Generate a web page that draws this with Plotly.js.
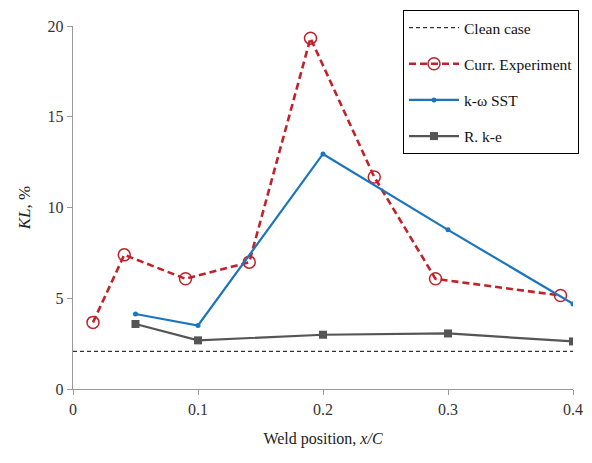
<!DOCTYPE html>
<html><head><meta charset="utf-8">
<script src="https://cdn.plot.ly/plotly-3.0.1.min.js"></script>
<style>body{margin:0;padding:0;background:#fff}#chart{width:592px;height:463px}</style>
</head><body><div id="chart"></div>
<script>
const cleanX = [0, 0.4];
const cleanY = [2.07, 2.07];
const expX = [0.016, 0.041, 0.09, 0.141, 0.19, 0.241, 0.29, 0.39];
const expY = [3.67, 7.39, 6.07, 6.99, 19.33, 11.68, 6.07, 5.15];
const sstX = [0.05, 0.1, 0.2, 0.3, 0.4];
const sstY = [4.13, 3.5, 12.95, 8.77, 4.69];
const rkeX = [0.05, 0.1, 0.2, 0.3, 0.4];
const rkeY = [3.58, 2.68, 2.99, 3.06, 2.62];
const xTicks = [0, 0.1, 0.2, 0.3, 0.4];
const xTickText = ['0', '0.1', '0.2', '0.3', '0.4'];
const yTicks = [0, 5, 10, 15, 20];

const FF = 'Liberation Serif';
const traces = [
  {x: cleanX, y: cleanY, name: 'Clean case', mode: 'lines', legendgroup: 'a',
   line: {color: '#333333', width: 1.3, dash: '4px,3px'}},
  {x: expX, y: expY, name: 'Curr. Experiment', mode: 'lines+markers', legendgroup: 'b',
   line: {color: '#c0222a', width: 2.6, dash: '7px,4px'},
   marker: {symbol: 'circle-open', size: 12, color: '#c0222a', line: {width: 1.5, color: '#c0222a'}}},
  {x: sstX, y: sstY, name: 'k-ω SST', mode: 'lines+markers', legendgroup: 'c',
   line: {color: '#1b75bc', width: 2.2},
   marker: {symbol: 'circle', size: 5, color: '#1b75bc'}},
  {x: rkeX, y: rkeY, name: 'R. k-e', mode: 'lines+markers', legendgroup: 'd',
   line: {color: '#555555', width: 2.2},
   marker: {symbol: 'square', size: 8, color: '#555555'}}
];
const layout = {
  width: 592, height: 463,
  margin: {l: 73, r: 19, t: 26, b: 74, autoexpand: false},
  paper_bgcolor: '#fff', plot_bgcolor: '#fff',
  font: {family: FF, color: '#222', size: 16},
  showlegend: true,
  legend: {x: 0.66, y: 1.044, xanchor: 'left', yanchor: 'top',
    bordercolor: '#000', borderwidth: 1, bgcolor: '#fff',
    font: {family: FF, size: 15.5, color: '#111'},
    traceorder: 'grouped', tracegroupgap: 13, itemwidth: 50},
  xaxis: {range: [0, 0.4], tickvals: xTicks, ticktext: xTickText,
    showgrid: false, zeroline: false, showline: true, linecolor: '#999', linewidth: 1.3,
    ticks: 'outside', ticklen: 5, tickcolor: '#999', tickfont: {family: FF, size: 16, color: '#333'},
    title: {text: 'Weld position, <i>x/C</i>', font: {family: FF, size: 16, color: '#222'}, standoff: 16}},
  yaxis: {range: [0, 20], tickvals: yTicks,
    showgrid: false, zeroline: false, showline: true, linecolor: '#999', linewidth: 1.3,
    ticks: 'outside', ticklen: 5, tickcolor: '#999', tickfont: {family: FF, size: 16, color: '#333'},
    title: {text: '<i>KL</i>, %', font: {family: FF, size: 17, color: '#222'}, standoff: 12}}
};
Plotly.newPlot('chart', traces, layout, {displayModeBar: false, staticPlot: true});
</script></body></html>
